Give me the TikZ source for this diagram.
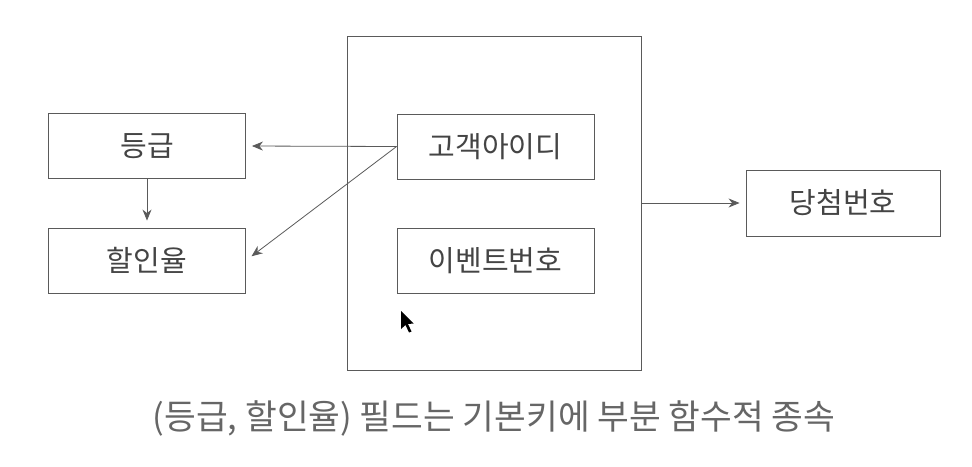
\documentclass[tikz,border=0pt]{standalone}
\usepackage{fontspec}
\setmainfont{Noto Sans CJK KR}
\usetikzlibrary{arrows.meta}
\definecolor{linegray}{HTML}{5A5A5A}
\definecolor{textgray}{HTML}{444444}
\definecolor{capgray}{HTML}{666666}
\tikzset{
  fieldbox/.style={draw=linegray, line width=0.9pt, minimum width=197pt, minimum height=65pt, inner sep=0pt, font=\fontsize{29}{32}\selectfont, text=textgray},
  conn/.style={draw=linegray, line width=0.8pt, -{Stealth[length=11pt,width=9pt]}}
}
\begin{document}
\begin{tikzpicture}[x=1pt,y=-1pt]
\useasboundingbox (0,0) rectangle (972,466);
\fill[white] (0,0) rectangle (972,466);
\node[draw=linegray, line width=0.9pt, minimum width=294pt, minimum height=334pt, inner sep=0pt] (big) at (494,203) {};
\node[fieldbox] (grade) at (147,146) {등급};
\node[fieldbox] (rate) at (147,260.5) {할인율};
\node[fieldbox] (cid) at (495.5,146.5) {고객아이디};
\node[fieldbox] (eid) at (495.5,260.5) {이벤트번호};
\node[fieldbox, minimum width=194pt, minimum height=66pt] (win) at (843,203) {당첨번호};
\draw[conn, shorten >=6pt] (cid.west) -- (grade.east);
\draw[conn, shorten >=7pt] (cid.west) -- (rate.east);
\draw[conn, shorten >=7pt] (grade.south) -- (rate.north);
\draw[conn, shorten >=6pt] (big.east) -- (win.west);
\node[text=capgray, font=\fontsize{34.5}{38}\selectfont, inner sep=0pt] (cap) at (494,418) {(등급, 할인율) 필드는 기본키에 부분 함수적 종속};
% mouse pointer
\fill[black] (401,311) -- (401,329) -- (405.5,325) -- (409,332.5) -- (411.5,331.5) -- (408,324) -- (413.5,323.5) -- cycle;
\end{tikzpicture}
\end{document}
